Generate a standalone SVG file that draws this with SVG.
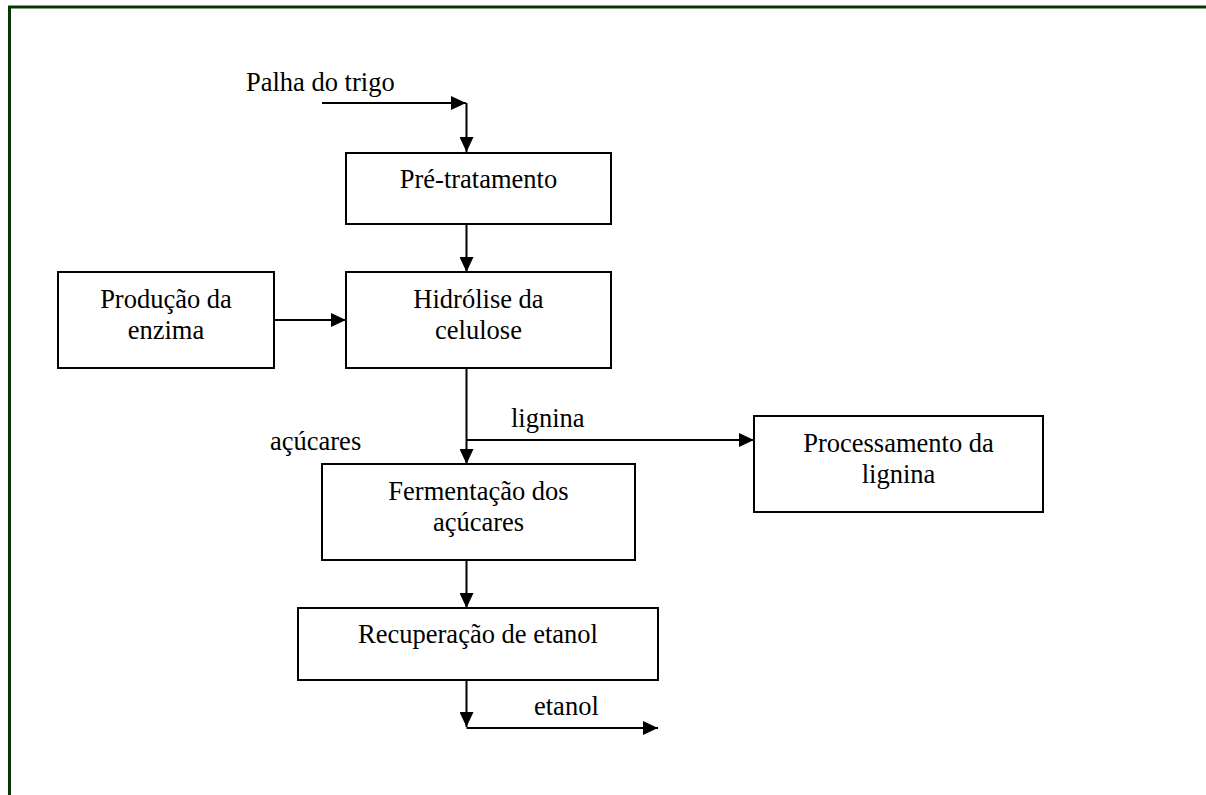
<svg xmlns="http://www.w3.org/2000/svg" width="1206" height="795" viewBox="0 0 1206 795">
<style>
.box{fill:#fff;stroke:#000;stroke-width:2}
.t{font-family:"Liberation Serif","Times New Roman",serif;font-size:26.5px;fill:#000}
.c{text-anchor:middle}
.ln{fill:none;stroke:#000;stroke-width:2}
</style>
<defs>
<marker id="ah" markerWidth="15" markerHeight="14" refX="15" refY="7" orient="auto" markerUnits="userSpaceOnUse">
<path d="M0,0 L15,7 L0,14 Z" fill="#000"/>
</marker>
</defs>
<rect width="1206" height="795" fill="#fff"/>
<path d="M9.5,795 V7 H1206" fill="none" stroke="#063806" stroke-width="3"/>
<g id="connectors">
<path class="ln" d="M322,103 H466" marker-end="url(#ah)"/>
<path class="ln" d="M466.5,103 V152" marker-end="url(#ah)"/>
<path class="ln" d="M466.5,224 V272" marker-end="url(#ah)"/>
<path class="ln" d="M274,320 H346" marker-end="url(#ah)"/>
<path class="ln" d="M466.5,368 V464" marker-end="url(#ah)"/>
<path class="ln" d="M466.5,440 H754" marker-end="url(#ah)"/>
<path class="ln" d="M466.5,560 V608" marker-end="url(#ah)"/>
<path class="ln" d="M466.5,680 V727" marker-end="url(#ah)"/>
<path class="ln" d="M466.5,728 H658" marker-end="url(#ah)"/>
<text class="t" x="246" y="91">Palha do trigo</text>
<text class="t" x="511" y="427">lignina</text>
<text class="t" x="270" y="450">açúcares</text>
<text class="t" x="534" y="715">etanol</text>
</g>
<g id="pretratamento">
<rect class="box" x="346" y="153" width="265" height="71"/>
<text class="t c" x="478.5" y="188">Pré-tratamento</text>
</g>
<g id="hidrolise">
<rect class="box" x="346" y="272" width="265" height="96"/>
<text class="t c" x="478.5" y="308">Hidrólise da</text>
<text class="t c" x="478.5" y="339">celulose</text>
</g>
<g id="producao">
<rect class="box" x="58" y="272" width="216" height="96"/>
<text class="t c" x="166" y="308">Produção da</text>
<text class="t c" x="166" y="339">enzima</text>
</g>
<g id="processamento">
<rect class="box" x="754" y="416" width="289" height="96"/>
<text class="t c" x="898.5" y="452">Processamento da</text>
<text class="t c" x="898.5" y="483">lignina</text>
</g>
<g id="fermentacao">
<rect class="box" x="322" y="464" width="313" height="96"/>
<text class="t c" x="478.5" y="500">Fermentação dos</text>
<text class="t c" x="478.5" y="531">açúcares</text>
</g>
<g id="recuperacao">
<rect class="box" x="298" y="608" width="360" height="72"/>
<text class="t c" x="478" y="643">Recuperação de etanol</text>
</g>
</svg>
